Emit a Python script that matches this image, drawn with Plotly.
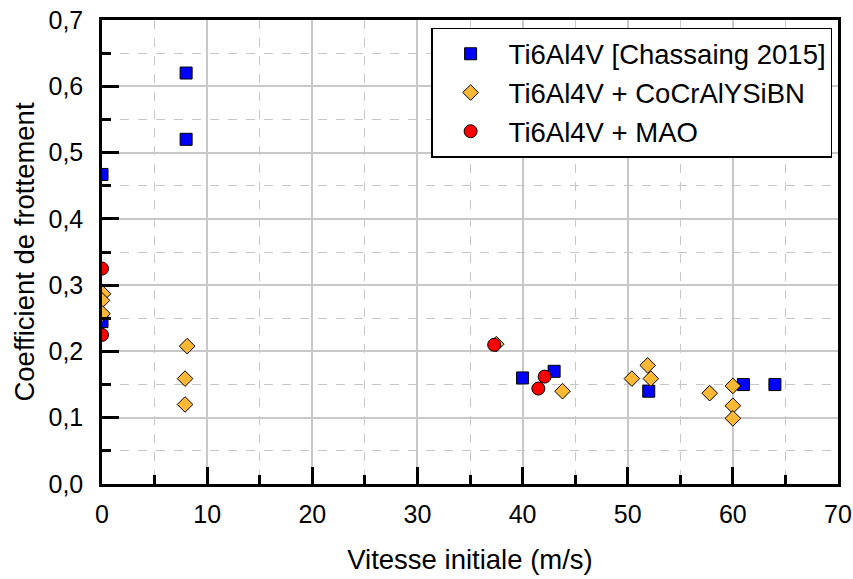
import plotly.graph_objects as go

# Ti6Al4V reference data [Chassaing 2015]
chassaing_x = [0.0, 0.0, 8.0, 8.0, 40.0, 43.0, 52.0, 61.0, 64.0]
chassaing_y = [0.467, 0.245, 0.62, 0.52, 0.16, 0.17, 0.14, 0.15, 0.15]

# Ti6Al4V + CoCrAlYSiBN coating
coating_x = [0.1, 0.0, 0.05, 8.1, 7.9, 7.9, 37.5, 43.8, 50.4, 51.9, 52.2, 57.8, 60.0, 60.0, 60.0]
coating_y = [0.287, 0.277, 0.257, 0.208, 0.159, 0.12, 0.211, 0.14, 0.159, 0.179, 0.159, 0.137, 0.148, 0.118, 0.099]

# Ti6Al4V + MAO coating
mao_x = [0.0, 0.0, 37.3, 42.1, 41.5]
mao_y = [0.325, 0.225, 0.21, 0.162, 0.144]

FONT = "Liberation Sans, Arial, sans-serif"

fig = go.Figure()
fig.add_trace(go.Scatter(
    x=chassaing_x, y=chassaing_y, mode="markers", name="Ti6Al4V [Chassaing 2015]",
    marker=dict(symbol="square", size=12, color="#0000ff", line=dict(color="black", width=1)),
))
fig.add_trace(go.Scatter(
    x=coating_x, y=coating_y, mode="markers", name="Ti6Al4V + CoCrAlYSiBN",
    marker=dict(symbol="diamond", size=12, color="#ffb833", line=dict(color="black", width=1)),
))
fig.add_trace(go.Scatter(
    x=mao_x, y=mao_y, mode="markers", name="Ti6Al4V + MAO",
    marker=dict(symbol="circle", size=13, color="#ff0000", line=dict(color="black", width=1)),
))

axis_common = dict(
    showline=True, linecolor="black", linewidth=2.5, mirror=True,
    ticks="inside", ticklen=17, tickwidth=2.5, tickcolor="black",
    showgrid=True, gridcolor="#c8c8c8", gridwidth=1.5,
    zeroline=False, automargin=False,
    tickfont=dict(family=FONT, size=25, color="black"),
)

fig.update_xaxes(
    range=[0, 70], dtick=10, tick0=0,
    title=dict(text="Vitesse initiale (m/s)", font=dict(family=FONT, size=27.5, color="black"), standoff=23),
    ticklabelstandoff=6,
    minor=dict(dtick=5, ticks="inside", ticklen=9, tickwidth=2.5, tickcolor="black",
               showgrid=True, gridcolor="#c8c8c8", gridwidth=1, griddash="dash"),
    **axis_common,
)
fig.update_yaxes(
    range=[0, 0.7], dtick=0.1, tick0=0, tickformat=".1f",
    title=dict(text="Coefficient de frottement", font=dict(family=FONT, size=27.5, color="black"), standoff=6),
    ticklabelstandoff=11,
    minor=dict(dtick=0.05, ticks="inside", ticklen=9, tickwidth=2.5, tickcolor="black",
               showgrid=True, gridcolor="#c8c8c8", gridwidth=1, griddash="dash"),
    **axis_common,
)

fig.update_layout(
    width=853, height=579,
    margin=dict(l=102, r=15, t=20, b=95),
    separators=", ",
    paper_bgcolor="white", plot_bgcolor="white",
    font=dict(family=FONT, size=25, color="black"),
    showlegend=True,
    legend=dict(
        x=0.992, y=0.983, xanchor="right", yanchor="top",
        bgcolor="white", bordercolor="black", borderwidth=1.5,
        font=dict(family=FONT, size=27.5, color="black"),
        tracegroupgap=0, itemsizing="trace", itemwidth=66,
    ),
)

fig.write_html("out.html")
